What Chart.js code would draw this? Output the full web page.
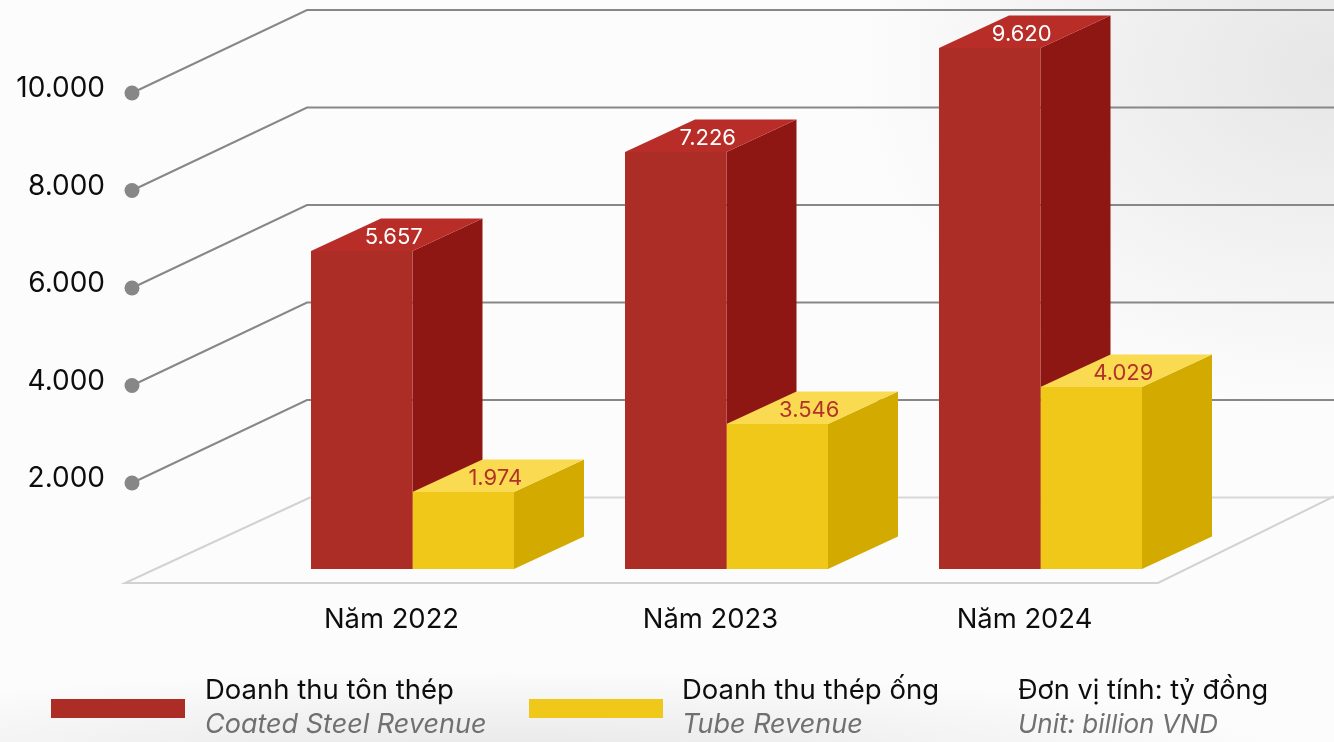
<!DOCTYPE html>
<html>
<head>
<meta charset="utf-8">
<title>Doanh thu</title>
<script src="https://cdn.jsdelivr.net/npm/chart.js@4/dist/chart.umd.min.js"></script>
<style>
  html, body { margin: 0; padding: 0; }
  body {
    width: 1334px; height: 742px; overflow: hidden;
    background:
      radial-gradient(ellipse 480px 340px at 1334px 70px, #e6e6e6, rgba(230,230,230,0)),
      radial-gradient(ellipse 800px 90px at 500px 760px, #e6e6e6, rgba(230,230,230,0)),
      #fcfcfc;
  }
  #wrap { position: relative; width: 1334px; height: 742px; }
</style>
</head>
<body>
<div id="wrap"><canvas id="chart"></canvas></div>
<script>
const years = ['Năm 2022', 'Năm 2023', 'Năm 2024'];
const yTicks = [2000, 4000, 6000, 8000, 10000];

// printed on the bars
const coatedValues = [5657, 7226, 9620];
const tubeValues = [1974, 3546, 4029];

// the reference bars are not to scale with their printed numbers,
// so these are the heights read against its own axis
const coatedHeights = [6523, 8554, 10687];
const tubeHeights = [1579, 2974, 3733];

const legendEnglish = ['Coated Steel Revenue', 'Tube Revenue'];
const unitText = ['Đơn vị tính: tỷ đồng', 'Unit: billion VND'];

const FONT = 'Inter, sans-serif';
const BAR_DX = 70, BAR_DY = 32.5;   // depth of a bar
const WALL_DX = 175, WALL_DY = 83;  // depth of the floor
const FRONT_DROP = 11.5;            // axis dots sit in front of the bars

const fmt = (v) => String(v).replace(/\B(?=(\d{3})+$)/g, '.');

function quad(ctx, pts, color) {
  ctx.fillStyle = color;
  ctx.beginPath();
  pts.forEach((p, i) => (i ? ctx.lineTo(p[0], p[1]) : ctx.moveTo(p[0], p[1])));
  ctx.closePath();
  ctx.fill();
}

function line(ctx, pts, color, width) {
  ctx.strokeStyle = color;
  ctx.lineWidth = width;
  ctx.beginPath();
  pts.forEach((p, i) => (i ? ctx.lineTo(p[0], p[1]) : ctx.moveTo(p[0], p[1])));
  ctx.stroke();
}

const box3d = {
  id: 'box3d',
  beforeDatasetsDraw(chart) {
    const { ctx, scales: { x, y }, width } = chart;
    const zero = y.getPixelForValue(0);

    // floor
    const backY = zero + FRONT_DROP - WALL_DY;
    line(ctx, [[1334, backY - 1], [1158, zero + 14], [125, zero + 14], [125 + 185, backY]], '#d2d2d2', 2);
    line(ctx, [[125 + 185, backY], [width, backY]], '#d8d8d8', 2);

    // walls, dots and tick labels
    ctx.font = '28px ' + FONT;
    ctx.textAlign = 'right';
    ctx.textBaseline = 'middle';
    yTicks.forEach((v) => {
      const py = y.getPixelForValue(v) + FRONT_DROP;
      line(ctx, [[132, py], [132 + WALL_DX, py - WALL_DY], [width, py - WALL_DY]], '#878787', 2);
      ctx.fillStyle = '#878787';
      ctx.beginPath();
      ctx.arc(132, py, 7.5, 0, Math.PI * 2);
      ctx.fill();
      ctx.fillStyle = '#0d0d0d';
      ctx.fillText(fmt(v), 105, py - 4);
    });

    // category labels, left of the bar pair as in the reference
    ctx.font = '27.4px ' + FONT;
    ctx.textAlign = 'center';
    ctx.fillStyle = '#0d0d0d';
    years.forEach((name, i) => {
      ctx.fillText(name, x.getPixelForTick(i) + (i ? -16 : -21), zero + 51);
    });

    // side and top faces, the front comes from the bar element
    chart.data.datasets.forEach((ds, d) => {
      chart.getDatasetMeta(d).data.forEach((bar) => {
        const l = bar.x - bar.width / 2, r = bar.x + bar.width / 2;
        quad(ctx, [[r, bar.y], [r + BAR_DX, bar.y - BAR_DY], [r + BAR_DX, bar.base - BAR_DY], [r, bar.base]], ds.sideColor);
        quad(ctx, [[l, bar.y], [l + BAR_DX, bar.y - BAR_DY], [r + BAR_DX, bar.y - BAR_DY], [r, bar.y]], ds.topColor);
      });
    });
  },
  afterDatasetsDraw(chart) {
    const { ctx } = chart;
    ctx.font = '22px ' + FONT;
    ctx.textAlign = 'center';
    ctx.textBaseline = 'middle';
    chart.data.datasets.forEach((ds, d) => {
      chart.getDatasetMeta(d).data.forEach((bar, i) => {
        ctx.fillStyle = ds.printColor;
        ctx.fillText(fmt(ds.printed[i]), bar.x + BAR_DX / 2 - 3, bar.y - BAR_DY / 2 + 3);
      });
    });
  },
  afterDraw(chart) {
    const { ctx } = chart;
    const items = [
      { swatch: 51, text: 205 },
      { swatch: 529, text: 682 },
    ];
    ctx.textAlign = 'left';
    ctx.textBaseline = 'middle';
    items.forEach((it, i) => {
      const ds = chart.data.datasets[i];
      ctx.fillStyle = ds.backgroundColor;
      ctx.fillRect(it.swatch, 699, 134, 19);
      ctx.fillStyle = '#0d0d0d';
      ctx.font = '27.5px ' + FONT;
      ctx.fillText(ds.label, it.text, 691);
      ctx.fillStyle = '#707070';
      ctx.font = 'italic 27px ' + FONT;
      ctx.fillText(legendEnglish[i], it.text, 725);
    });
    ctx.fillStyle = '#0d0d0d';
    ctx.font = '27.2px ' + FONT;
    ctx.fillText(unitText[0], 1018, 691);
    ctx.fillStyle = '#707070';
    ctx.font = 'italic 26px ' + FONT;
    ctx.fillText(unitText[1], 1018, 725);
  },
};

new Chart(document.getElementById('chart'), {
  type: 'bar',
  data: {
    labels: years,
    datasets: [
      {
        label: 'Doanh thu tôn thép',
        data: coatedHeights,
        printed: coatedValues,
        backgroundColor: '#ab2d26',
        sideColor: '#8f1713',
        topColor: '#b92d29',
        printColor: '#ffffff',
      },
      {
        label: 'Doanh thu thép ống',
        data: tubeHeights,
        printed: tubeValues,
        backgroundColor: '#efc81a',
        sideColor: '#d2aa00',
        topColor: '#fada50',
        printColor: '#b2322b',
      },
    ],
  },
  options: {
    responsive: true,
    maintainAspectRatio: false,
    animation: false,
    layout: { padding: { top: 32.75, right: 136.5, left: 0, bottom: 0 } },
    datasets: { bar: { categoryPercentage: 0.6465, barPercentage: 1 } },
    plugins: { legend: { display: false }, tooltip: { enabled: false } },
    scales: {
      x: {
        grid: { display: false },
        border: { display: false },
        ticks: { display: false },
        afterFit(scale) { scale.height = 173; },
      },
      y: {
        min: 0,
        max: 11000,
        grid: { display: false, drawTicks: false },
        border: { display: false },
        ticks: { display: false },
        afterFit(scale) { scale.width = 255.5; },
      },
    },
  },
  plugins: [box3d],
});
</script>
</body>
</html>
